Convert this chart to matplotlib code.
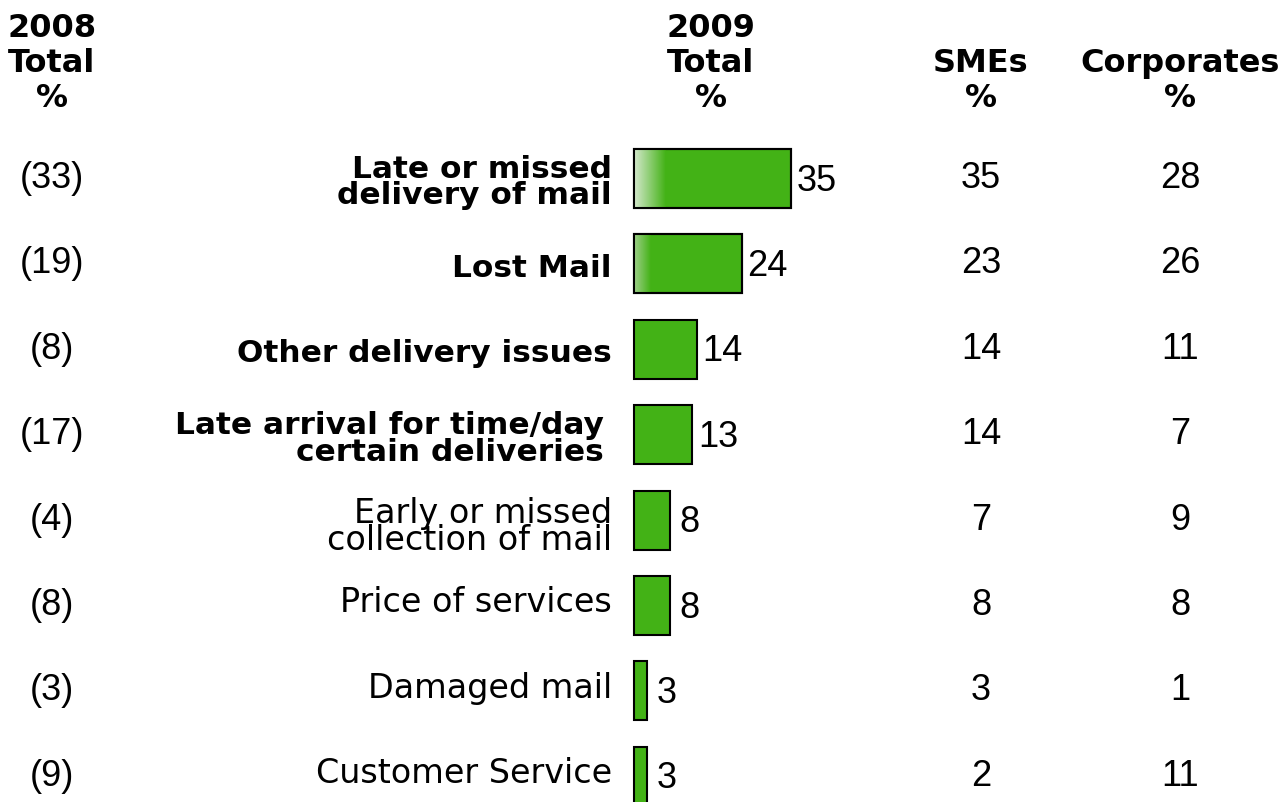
import matplotlib.pyplot as plt
import numpy as np
from matplotlib.colors import LinearSegmentedColormap

plt.rcParams['font.family'] = ['Liberation Sans', 'DejaVu Sans']

labels = ['Late or missed\ndelivery of mail', 'Lost Mail', 'Other delivery issues',
          'Late arrival for time/day\ncertain deliveries', 'Early or missed\ncollection of mail',
          'Price of services', 'Damaged mail', 'Customer Service']
bold_rows = [True, True, True, True, False, False, False, False]
total_2008 = [33, 19, 8, 17, 4, 8, 3, 9]
total_2009 = [35, 24, 14, 13, 8, 8, 3, 3]
smes = [35, 23, 14, 14, 7, 8, 3, 2]
corporates = [28, 26, 11, 7, 9, 8, 1, 11]
headers = ['2008\nTotal\n%', '2009\nTotal\n%', 'SMEs\n%', 'Corporates\n%']

green = '#43b216'
W, H = 1282, 802
fig = plt.figure(figsize=(W / 100, H / 100), dpi=100)
ax = fig.add_axes([0, 0, 1, 1])
ax.axis('off')

# x in percent units, 4.5 px per point, zero at px 634
px_per = 4.5
x0 = 634
# rows: centre of row 0 at px 178.5, 85.4 px apart
row0, step = 178.5, 85.4

y = np.arange(len(labels))
bars = ax.barh(y, total_2009, height=0.69, color=green, edgecolor='black', linewidth=1.5, zorder=2)

# faded left part on the first two bars
fades = [(7.0, '#d4e8cc'), (3.6, '#9fd08a')]
for b, (fw, c0) in zip(bars, fades):
    cmap = LinearSegmentedColormap.from_list('f', [c0, green])
    grad = np.linspace(0, 1, 100).reshape(1, -1)
    bx, by = b.get_x(), b.get_y()
    im = ax.imshow(grad, cmap=cmap, aspect='auto', zorder=3,
                   extent=(bx, bx + fw, by + b.get_height(), by))
    im.set_clip_path(b)
    ax.add_patch(plt.Rectangle((bx, by), b.get_width(), b.get_height(), fill=False,
                               edgecolor='black', linewidth=1.5, zorder=4))

ax.set_xlim(-x0 / px_per, (W - x0) / px_per)
ax.set_ylim((H - row0) / step, -row0 / step)

tr = ax.get_yaxis_transform()  # x in axes fraction, y in data
col_x = [52 / W, 711 / W, 981 / W, 1180 / W]
lab_font = ['DejaVu Sans']

for i in range(len(labels)):
    ax.text(col_x[0], i, '(%d)' % total_2008[i], transform=tr, ha='center', va='center', fontsize=26)
    ax.text(col_x[2], i, str(smes[i]), transform=tr, ha='center', va='center', fontsize=26)
    ax.text(col_x[3], i, str(corporates[i]), transform=tr, ha='center', va='center', fontsize=26)
    gap = 1.2 if total_2009[i] >= 10 else 2.0
    ax.text(total_2009[i] + gap, i + 0.03, str(total_2009[i]), ha='left', va='center', fontsize=26)
    lx = 604 / W if i == 3 else 612 / W
    if bold_rows[i]:
        ax.text(lx, i + 0.05, labels[i], transform=tr, ha='right', va='center', fontsize=22.5,
                family=lab_font, fontweight='bold', linespacing=0.88)
    else:
        dy = 0.08 if '\n' in labels[i] else -0.03
        ax.text(lx, i + dy, labels[i], transform=tr, ha='right', va='center', fontsize=24,
                family=lab_font, linespacing=0.74)

for hx, h in zip(col_x, headers):
    ax.text(hx, 1 - 114 / H, h, transform=ax.transAxes, ha='center', va='bottom',
            fontsize=23, family=lab_font, fontweight='bold', linespacing=1.17)

fig.savefig('out.png', dpi=100)
